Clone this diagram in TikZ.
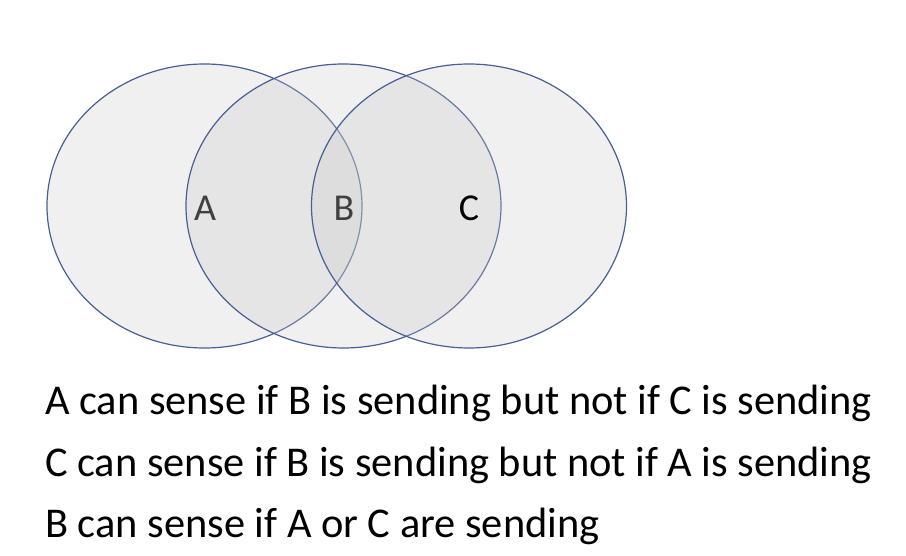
\documentclass[tikz,border=0pt]{standalone}
\usepackage{fontspec}
\setmainfont{Carlito}
\usetikzlibrary{shapes.geometric}
\definecolor{rimblue}{RGB}{70,95,150}
\definecolor{zonegray}{RGB}{200,200,200}
\definecolor{labelgray}{RGB}{64,64,64}
\tikzset{
  zone/.style={ellipse,draw=rimblue,line width=1.2pt,fill=zonegray,fill opacity=.27,inner sep=0pt,minimum width=315pt,minimum height=284pt},
  station/.style={anchor=base,inner sep=0pt,font=\fontsize{38}{44}\selectfont},
  rule/.style={anchor=base west,inner sep=0pt,font=\fontsize{42.4}{50}\selectfont}
}
\begin{document}
\begin{tikzpicture}[x=1pt,y=-1pt]
\useasboundingbox (0,0) rectangle (906,556);
\node[zone] (zoneA) at (204.5,206) {};
\node[zone] (zoneB) at (343.5,206) {};
\node[zone] (zoneC) at (469,206) {};
\node[station,text=labelgray] (stA) at (205,221) {A};
\node[station,text=labelgray] (stB) at (344,221) {B};
\node[station] (stC) at (469,221) {C};
\node[rule] (ruleA) at (45,414) {A can sense if B is sending but not if C is sending};
\node[rule] (ruleC) at (45,476) {C can sense if B is sending but not if A is sending};
\node[rule] (ruleB) at (45,537) {B can sense if A or C are sending};
\end{tikzpicture}
\end{document}
